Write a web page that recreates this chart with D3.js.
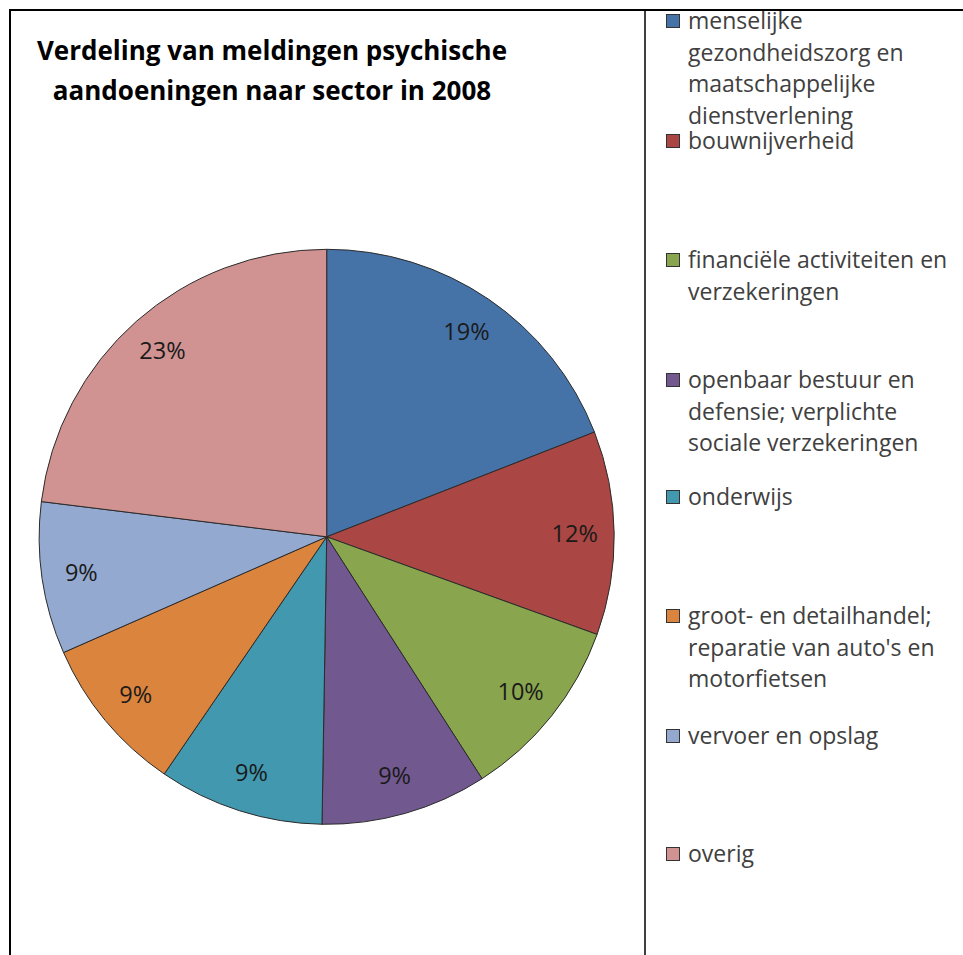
<!DOCTYPE html>
<html><head><meta charset="utf-8">
<script src="https://cdn.jsdelivr.net/npm/d3@7"></script>
<style>body{margin:0;background:#fff;} svg{display:block;}</style>
</head><body>
<script>
const categories = [
  ["menselijke","gezondheidszorg en","maatschappelijke","dienstverlening"],
  ["bouwnijverheid"],
  ["financiële activiteiten en","verzekeringen"],
  ["openbaar bestuur en","defensie; verplichte","sociale verzekeringen"],
  ["onderwijs"],
  ["groot- en detailhandel;","reparatie van auto's en","motorfietsen"],
  ["vervoer en opslag"],
  ["overig"]
];
const values = [19.07, 11.45, 10.4, 9.35, 9.3, 8.85, 8.55, 23.05];
const pctLabels = ["19%","12%","10%","9%","9%","9%","9%","23%"];
const colors = ["#4572A7","#AA4643","#89A54E","#71588F","#4198AF","#DB843D","#93A9CF","#D19392"];
const titleLines = ["Verdeling van meldingen psychische","aandoeningen naar sector in 2008"];

const W = 963, H = 955;
const svg = d3.select("body").append("svg").attr("width", W).attr("height", H);

// frame
svg.append("line").attr("x1",10).attr("x2",W).attr("y1",10).attr("y2",10).attr("stroke","#000").attr("stroke-width",2);
svg.append("line").attr("x1",10).attr("x2",10).attr("y1",9).attr("y2",H).attr("stroke","#000").attr("stroke-width",2);
svg.append("line").attr("x1",645).attr("x2",645).attr("y1",10).attr("y2",H).attr("stroke","#000").attr("stroke-width",1.5);

// title
const font = "'Open Sans', Lato, sans-serif";
svg.append("g").selectAll("text").data(titleLines).join("text")
  .attr("x", 272).attr("y",(d,i)=>60+i*40)
  .attr("text-anchor","middle")
  .attr("font-family",font).attr("font-weight","bold").attr("font-size",26)
  .attr("fill","#000")
  .text(d=>d);

// pie
const cx = 326.7, cy = 536.8, r = 287.5;
const pie = d3.pie().sort(null).value(d=>d);
const arcs = pie(values);
const arc = d3.arc().innerRadius(0).outerRadius(r);
const labelArc = d3.arc().innerRadius(248).outerRadius(248);
const g = svg.append("g").attr("transform",`translate(${cx},${cy})`);
g.selectAll("path").data(arcs).join("path")
  .attr("d",arc).attr("fill",(d,i)=>colors[i])
  .attr("stroke","#2b2b2b").attr("stroke-width",1).attr("stroke-linejoin","round");
g.selectAll("text").data(arcs).join("text")
  .attr("transform",d=>`translate(${labelArc.centroid(d)})`)
  .attr("text-anchor","middle").attr("dy","0.35em")
  .attr("font-family",font).attr("font-size",23.5).attr("fill","#1a1a1a")
  .text((d,i)=>pctLabels[i]);

// legend
const legTop = [21, 141, 260, 380, 497, 616, 736, 854];
const leg = svg.append("g");
categories.forEach((lines,i)=>{
  leg.append("rect").attr("x",666.5).attr("y",legTop[i]-6.5).attr("width",13).attr("height",13)
    .attr("fill",colors[i]).attr("stroke","#333").attr("stroke-width",1);
  leg.append("g").selectAll("text").data(lines).join("text")
    .attr("x",688).attr("y",(d,j)=>legTop[i]+j*31.7).attr("dy","0.35em")
    .attr("font-family",font).attr("font-size",23).attr("fill","#404040")
    .text(d=>d);
});
</script>
</body></html>
